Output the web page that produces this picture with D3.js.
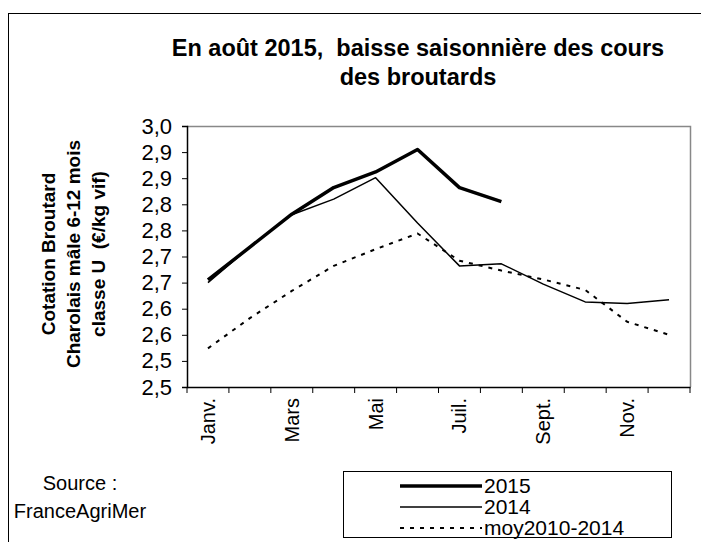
<!DOCTYPE html>
<html>
<head>
<meta charset="utf-8">
<script src="https://cdn.jsdelivr.net/npm/d3@7"></script>
<style>
  body { margin: 0; background: #fff; }
  svg { font-family: "Liberation Sans", Arial, sans-serif; }
</style>
</head>
<body>
<svg width="701" height="542"></svg>
<script>
'use strict';
// months, only every other label is shown on the axis
var months = ['Janv.', 'Févr.', 'Mars', 'Avr.', 'Mai', 'Juin', 'Juil.', 'Août', 'Sept.', 'Oct.', 'Nov.', 'Déc.'];
var shownMonths = ['Janv.', 'Mars', 'Mai', 'Juil.', 'Sept.', 'Nov.'];
var yTicks = [2.50, 2.55, 2.60, 2.65, 2.70, 2.75, 2.80, 2.85, 2.90, 2.95, 3.00];

var v2015 = [2.705, 2.768, 2.831, 2.882, 2.912, 2.955, 2.882, 2.855];
var v2014 = [2.700, 2.768, 2.830, 2.860, 2.901, 2.814, 2.732, 2.736, 2.697, 2.663, 2.660, 2.667];
var vMoy = [2.574, 2.632, 2.684, 2.732, 2.764, 2.794, 2.742, 2.723, 2.706, 2.686, 2.625, 2.600];

var series = [
  { name: '2015', values: v2015, width: 3.5, dash: null },
  { name: '2014', values: v2014, width: 1.5, dash: null },
  { name: 'moy2010-2014', values: vMoy, width: 2, dash: '4,6' }
];

var svg = d3.select('svg');
var plot = { left: 187, top: 126, right: 690, bottom: 387 };

// outer frame
svg.append('rect')
  .attr('x', 8.5).attr('y', 13.5)
  .attr('width', 700).attr('height', 540)
  .attr('fill', 'none').attr('stroke', '#000');

// title
svg.append('text')
  .attr('x', 418).attr('y', 56)
  .attr('text-anchor', 'middle')
  .attr('font-size', 23.5).attr('font-weight', 'bold')
  .text('En août 2015,  baisse saisonnière des cours')
  .style('white-space', 'pre');
svg.append('text')
  .attr('x', 418).attr('y', 85)
  .attr('text-anchor', 'middle')
  .attr('font-size', 23.5).attr('font-weight', 'bold')
  .text('des broutards');

var x = d3.scaleBand().domain(months).range([plot.left, plot.right]);
var y = d3.scaleLinear().domain([2.5, 3.0]).range([plot.bottom, plot.top]);

// plot frame (gray top/right)
svg.append('path')
  .attr('d', `M${plot.left},${plot.top + 0.5}H${plot.right + 0.5}V${plot.bottom}`)
  .attr('fill', 'none').attr('stroke', '#888').attr('stroke-width', 1.5);

var yAxis = svg.append('g')
  .attr('transform', `translate(${plot.left},0)`)
  .call(d3.axisLeft(y).tickValues(yTicks).tickSize(5).tickPadding(10)
    .tickFormat(d => d3.format('.1f')(Math.floor(d * 10 + 1e-6) / 10).replace('.', ',')));
yAxis.selectAll('text').attr('font-size', 22).attr('fill', '#000')
  .attr('font-family', '"Liberation Sans", Arial, sans-serif');

var xAxis = svg.append('g')
  .attr('transform', `translate(0,${plot.bottom})`)
  .call(d3.axisBottom(x).tickSize(0).tickFormat(d => shownMonths.includes(d) ? d : ''));
xAxis.selectAll('text')
  .attr('font-size', 20).attr('fill', '#000')
  .attr('font-family', '"Liberation Sans", Arial, sans-serif')
  .attr('transform', 'rotate(-90)')
  .attr('text-anchor', 'end')
  .attr('dy', '0.35em')
  .attr('x', -11).attr('y', 0);
// category boundary ticks
xAxis.selectAll('line.cat').data(months.concat(['end'])).enter().append('line')
  .attr('class', 'cat')
  .attr('x1', (d, i) => plot.left + i * x.step())
  .attr('x2', (d, i) => plot.left + i * x.step())
  .attr('y1', 0).attr('y2', 6)
  .attr('stroke', '#000');
svg.selectAll('.domain').attr('stroke', '#000').attr('stroke-width', 1.5);

// y axis title
var yTitle = ['Cotation Broutard', 'Charolais mâle 6-12 mois', 'classe U  (€/kg vif)'];
svg.append('g').selectAll('text').data(yTitle).enter().append('text')
  .attr('transform', (d, i) => `translate(${55 + i * 25},254) rotate(-90)`)
  .attr('text-anchor', 'middle')
  .attr('font-size', 19).attr('font-weight', 'bold')
  .style('white-space', 'pre')
  .text(d => d);

var line = d3.line()
  .x((d, i) => x(months[i]) + x.bandwidth() / 2)
  .y(d => y(d));

svg.append('g').selectAll('path').data(series.slice().reverse()).enter().append('path')
  .attr('d', d => line(d.values))
  .attr('fill', 'none').attr('stroke', '#000')
  .attr('stroke-width', d => d.width)
  .attr('stroke-dasharray', d => d.dash)
  .attr('stroke-linejoin', 'round');

// source
svg.append('text').attr('x', 80).attr('y', 490).attr('text-anchor', 'middle')
  .attr('font-size', 20).text('Source :');
svg.append('text').attr('x', 80).attr('y', 518).attr('text-anchor', 'middle')
  .attr('font-size', 20).text('FranceAgriMer');

// legend
var legend = svg.append('g');
legend.append('rect')
  .attr('x', 343.5).attr('y', 471.5).attr('width', 328).attr('height', 66)
  .attr('fill', 'none').attr('stroke', '#000');
var li = legend.selectAll('g.item').data(series).enter().append('g')
  .attr('transform', (d, i) => `translate(0,${486 + i * 21})`);
li.append('line')
  .attr('x1', 400).attr('x2', 482)
  .attr('stroke', '#000')
  .attr('stroke-width', d => d.width)
  .attr('stroke-dasharray', d => d.dash);
li.append('text').attr('x', 484).attr('dy', '0.35em')
  .attr('font-size', 21).text(d => d.name);
</script>
</body>
</html>
